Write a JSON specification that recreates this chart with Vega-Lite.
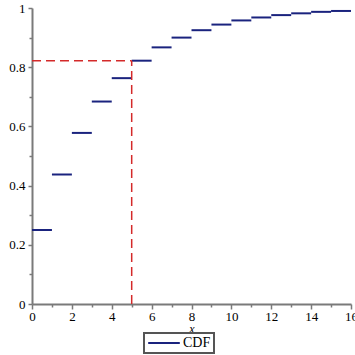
{
  "$schema": "https://vega.github.io/schema/vega-lite/v6.json",
  "autosize": {"type": "none"},
  "width": 319,
  "height": 296,
  "padding": {"left": 32, "top": 8, "right": 4, "bottom": 51},
  "background": "white",
  "config": {
    "view": {"stroke": null},
    "font": "Liberation Serif",
    "axis": {"labelFont": "Liberation Serif", "labelFontSize": 13, "titleFont": "Liberation Serif"},
    "legend": {"labelFont": "Liberation Serif"}
  },
  "datasets": {
    "steps": [
      {"x": 0, "x2": 1, "y": 0.25, "series": "CDF"},
      {"x": 1, "x2": 2, "y": 0.4375, "series": "CDF"},
      {"x": 2, "x2": 3, "y": 0.578, "series": "CDF"},
      {"x": 3, "x2": 4, "y": 0.684, "series": "CDF"},
      {"x": 4, "x2": 5, "y": 0.763, "series": "CDF"},
      {"x": 5, "x2": 6, "y": 0.822, "series": "CDF"},
      {"x": 6, "x2": 7, "y": 0.867, "series": "CDF"},
      {"x": 7, "x2": 8, "y": 0.9, "series": "CDF"},
      {"x": 8, "x2": 9, "y": 0.925, "series": "CDF"},
      {"x": 9, "x2": 10, "y": 0.944, "series": "CDF"},
      {"x": 10, "x2": 11, "y": 0.958, "series": "CDF"},
      {"x": 11, "x2": 12, "y": 0.968, "series": "CDF"},
      {"x": 12, "x2": 13, "y": 0.976, "series": "CDF"},
      {"x": 13, "x2": 14, "y": 0.982, "series": "CDF"},
      {"x": 14, "x2": 15, "y": 0.987, "series": "CDF"},
      {"x": 15, "x2": 16, "y": 0.99, "series": "CDF"}
    ],
    "hline": [{"x": 0, "x2": 5, "y": 0.822}],
    "vline": [{"x": 5, "y": 0, "y2": 0.822}]
  },
  "encoding": {
    "x": {
      "field": "x", "type": "quantitative",
      "scale": {"domain": [0, 16], "nice": false},
      "axis": {
        "grid": false,
        "domainColor": "#7a7a7a",
        "domainWidth": 2,
        "tickColor": "#7a7a7a",
        "tickWidth": 1.5,
        "labelFont": "Liberation Serif",
        "labelFontSize": 13,
        "labelColor": "#000000",
        "title": "x",
        "titleFont": "Liberation Serif",
        "titleFontSize": 12,
        "titleFontWeight": "normal",
        "titleColor": "#000000",
        "titleFontStyle": "italic",
        "titlePadding": 0,
        "values": [0,1,2,3,4,5,6,7,8,9,10,11,12,13,14,15,16],
        "labelExpr": "datum.value % 2 == 0 ? format(datum.value, 'd') : ''",
        "tickSize": {"condition": {"test": "datum.value % 2 == 0", "value": 5}, "value": 3},
        "labelPadding": 1,
        "labelFlush": false,
        "labelOverlap": false
      }
    },
    "y": {
      "field": "y", "type": "quantitative",
      "scale": {"domain": [0, 1], "nice": false},
      "axis": {
        "grid": false,
        "domainColor": "#7a7a7a",
        "domainWidth": 2,
        "tickColor": "#7a7a7a",
        "tickWidth": 1.5,
        "labelFont": "Liberation Serif",
        "labelFontSize": 13,
        "labelColor": "#000000",
        "title": null,
        "values": [0,0.1,0.2,0.3,0.4,0.5,0.6,0.7,0.8,0.9,1],
        "labelExpr": "round(datum.value*10) % 2 == 0 ? format(datum.value, '') : ''",
        "tickSize": {"condition": {"test": "round(datum.value*10) % 2 == 0", "value": 4}, "value": 3},
        "labelPadding": 3,
        "labelFlush": false,
        "labelOverlap": false
      }
    }
  },
  "layer": [
    {
      "data": {"name": "steps"},
      "mark": {"type": "rule", "strokeWidth": 2},
      "encoding": {
        "x2": {"field": "x2"},
        "color": {
          "field": "series", "type": "nominal",
          "scale": {"range": ["#1a237e"]},
          "legend": {
            "title": null,
            "orient": "none",
            "legendX": 112,
            "legendY": 325,
            "symbolType": "stroke",
            "symbolSize": 1000,
            "symbolStrokeWidth": 2,
            "symbolStrokeColor": "#2c3a9a",
            "labelFont": "Liberation Serif",
            "labelFontSize": 14,
            "labelColor": "#000000",
            "labelOffset": 2,
            "clipHeight": 14,
            "strokeColor": "#555555",
            "padding": 3,
            "cornerRadius": 0,
            "encode": {"legend": {"update": {"strokeWidth": {"value": 2}}}}
          }
        }
      }
    },
    {
      "data": {"name": "hline"},
      "mark": {"type": "rule", "color": "#d42a2a", "strokeWidth": 1.5, "strokeDash": [9, 5]},
      "encoding": {
        "x2": {"field": "x2"}
      }
    },
    {
      "data": {"name": "vline"},
      "mark": {"type": "rule", "color": "#d42a2a", "strokeWidth": 1.5, "strokeDash": [9, 5]},
      "encoding": {
        "y2": {"field": "y2"}
      }
    }
  ]
}
